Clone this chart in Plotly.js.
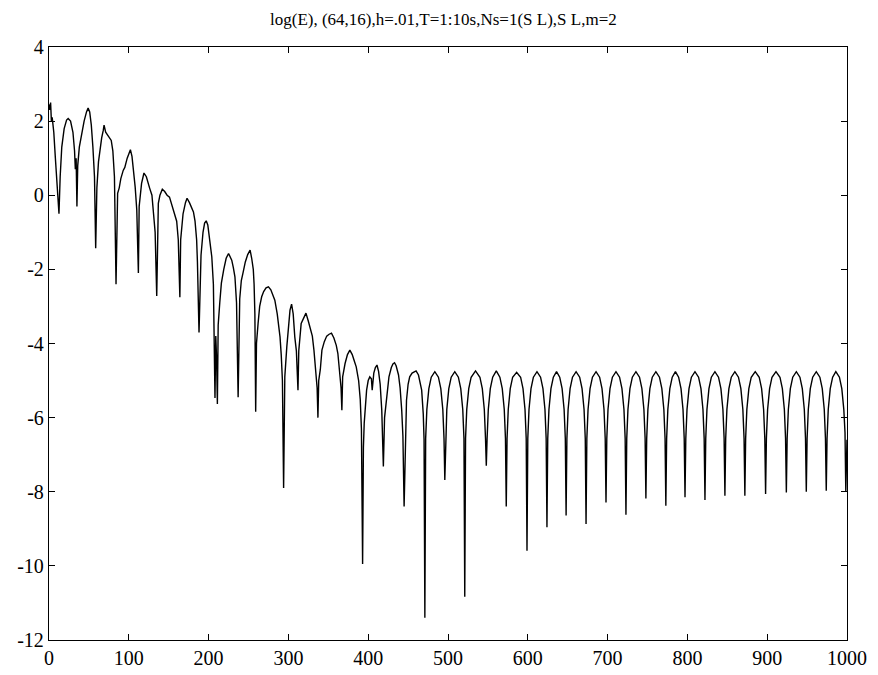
<!DOCTYPE html>
<html>
<head>
<meta charset="utf-8">
<script src="https://cdn.plot.ly/plotly-3.0.1.min.js"></script>
<style>html,body{margin:0;padding:0;background:#fff;}#chart{width:878px;height:675px;}</style>
</head>
<body>
<div id="chart"></div>
<script>
// Early, noisy part (x 0 .. 188)
var xEarly = [0,1,2,3,4,6,8,10,12.5,14,16,19,22,24,27,30,32,33,34,35,36,38,41,44,47,49,51,53,55,57,58.5,60,62,64,66,68,69,71,74,76,78,80,82,84,85,86,88,90,93,95,98,100,102,104,106,108,110,112,113,116,119,122,126,129,131,133,135,136,137,139,142,145,148,151,154,157,160,162,164,165,168,171,173,176,179,181,183,185,186,188];
var yEarly = [2.45,2.3,2.5,2.0,2.1,1.7,1.0,0.2,-0.5,0.5,1.3,1.8,2.03,2.07,2.0,1.7,1.2,0.7,1.0,-0.3,0.8,1.3,1.7,2.0,2.25,2.35,2.25,1.9,1.3,0.5,-1.43,0.2,0.9,1.3,1.55,1.75,1.89,1.7,1.6,1.55,1.48,1.2,0.5,-2.4,-0.5,0.05,0.2,0.45,0.67,0.75,1.0,1.15,1.23,1.05,0.7,0.22,-0.4,-2.1,-0.3,0.32,0.6,0.5,0.2,0.0,-0.5,-1.0,-2.72,-1.0,-0.22,0.0,0.16,0.1,0.0,-0.05,-0.25,-0.5,-0.7,-1.2,-2.75,-1.2,-0.5,-0.2,-0.08,-0.2,-0.35,-0.45,-0.7,-1.2,-1.8,-3.7];

// Middle part (x 190 .. 471)
var xMid = [190.5,193,195,197,199,201,204,206,207,208,209,210,211,212,214,216,219,222,225,227,229,231,233,235,237,239,241,243,246,249,252,254,256,257,258,259,260,262,264,266.5,269,272,275,278,281,283,286,289.5,291,292.5,294,295.5,298,300,302,304,306,308,310,312,313,316,319,322,325,327,330,332,334,336,337,338,340,342,345,348,351,354,357,360,362,364,366,367,368,371,374,377,380,383,385,388,390,391.5,393,394,395,398,400,402,404,405,407,409,411,413,415,417,419,420.5,423,426,429,431,433,435,438,440,442,443.5,445,446.5,448,450,452,455,458,460,463,465,467,469,470,471];
var yMid = [-1.62,-1.0,-0.75,-0.69,-0.8,-1.1,-1.66,-2.4,-3.6,-5.47,-3.8,-4.4,-5.63,-3.5,-2.9,-2.37,-2.0,-1.7,-1.57,-1.65,-1.75,-1.95,-2.2,-2.9,-5.45,-2.8,-2.3,-2.11,-1.8,-1.6,-1.48,-1.7,-2.0,-2.4,-3.2,-5.84,-4.0,-3.46,-3.0,-2.74,-2.6,-2.5,-2.47,-2.55,-2.7,-2.83,-3.2,-3.82,-4.3,-5.0,-7.9,-4.9,-4.09,-3.5,-3.1,-2.94,-3.2,-3.82,-4.2,-5.26,-4.2,-3.46,-3.3,-3.18,-3.4,-3.55,-3.8,-4.18,-4.6,-5.2,-6.0,-5.0,-4.7,-4.18,-3.95,-3.8,-3.75,-3.72,-3.85,-4.05,-4.27,-4.7,-5.2,-5.8,-4.9,-4.54,-4.3,-4.18,-4.3,-4.5,-4.63,-5.0,-5.5,-6.3,-9.95,-6.8,-6.15,-5.26,-5.0,-4.9,-4.95,-5.26,-4.8,-4.65,-4.58,-4.75,-5.1,-5.8,-7.32,-6.0,-5.44,-4.9,-4.65,-4.55,-4.52,-4.6,-4.85,-5.2,-5.8,-6.5,-8.4,-6.4,-5.53,-5.1,-4.9,-4.8,-4.75,-4.74,-4.85,-5.05,-5.26,-5.9,-6.6,-11.4];

// Late, regular part (x 472 .. 1000)
var xLate = [472,473.5,476,479,483.5,488,491,493.5,495,496,
 497,498.5,501,504,508.5,513,516,518.5,520,521,
 522,523.5,526,529,534.5,540,543,545.5,547,548,
 549,550.5,553,556,560.5,565,568,570.5,572,573,
 574,575.5,578,581,586,591,594,596.5,598,599,
 600,601.5,604,607,611.5,616,619,621.5,623,624,
 625,626.5,629,632,636,640,643,645.5,647,648,
 649,650.5,653,656,660.5,665,668,670.5,672,673,
 674,675.5,678,681,685.5,690,693,695.5,697,698,
 699,700.5,703,706,710.5,715,718,720.5,722,723,
 724,725.5,728,731,735.5,740,743,745.5,747,748,
 749,750.5,753,756,760.5,765,768,770.5,772,773,
 774,775.5,778,781,785,789,792,794.5,796,797,
 798,799.5,802,805,809.5,814,817,819.5,821,822,
 823,824.5,827,830,834.5,839,842,844.5,846,847,
 848,849.5,852,855,859.5,864,867,869.5,871,872,
 873,874.5,877,880,885,890,893,895.5,897,898,
 899,900.5,903,906,911,916,919,921.5,923,924,
 925,926.5,929,932,936.5,941,944,946.5,948,949,
 950,951.5,954,957,961.5,966,969,971.5,973,974,
 975,976.5,979,982,986,990.5,993.5,996,997.5,998.5,1000];
var yLate = [-6.56,-5.78,-5.22,-4.91,-4.76,-4.91,-5.22,-5.78,-6.56,-7.68,
 -6.56,-5.78,-5.22,-4.91,-4.76,-4.91,-5.22,-5.78,-6.56,-10.83,
 -6.56,-5.78,-5.22,-4.91,-4.74,-4.91,-5.22,-5.78,-6.56,-7.3,
 -6.56,-5.78,-5.22,-4.91,-4.74,-4.91,-5.22,-5.78,-6.56,-8.4,
 -6.56,-5.78,-5.22,-4.91,-4.78,-4.91,-5.22,-5.78,-6.56,-9.59,
 -6.56,-5.78,-5.22,-4.91,-4.76,-4.91,-5.22,-5.78,-6.56,-8.96,
 -6.56,-5.78,-5.22,-4.91,-4.76,-4.91,-5.22,-5.78,-6.56,-8.64,
 -6.56,-5.78,-5.22,-4.91,-4.76,-4.91,-5.22,-5.78,-6.56,-8.87,
 -6.56,-5.78,-5.22,-4.91,-4.76,-4.91,-5.22,-5.78,-6.56,-8.29,
 -6.56,-5.78,-5.22,-4.91,-4.76,-4.91,-5.22,-5.78,-6.56,-8.62,
 -6.56,-5.78,-5.22,-4.91,-4.76,-4.91,-5.22,-5.78,-6.56,-8.18,
 -6.56,-5.78,-5.22,-4.91,-4.76,-4.91,-5.22,-5.78,-6.56,-8.38,
 -6.56,-5.78,-5.22,-4.91,-4.76,-4.91,-5.22,-5.78,-6.56,-8.15,
 -6.56,-5.78,-5.22,-4.91,-4.76,-4.91,-5.22,-5.78,-6.56,-8.22,
 -6.56,-5.78,-5.22,-4.91,-4.76,-4.91,-5.22,-5.78,-6.56,-8.11,
 -6.56,-5.78,-5.22,-4.91,-4.76,-4.91,-5.22,-5.78,-6.56,-8.11,
 -6.56,-5.78,-5.22,-4.91,-4.76,-4.91,-5.22,-5.78,-6.56,-8.06,
 -6.56,-5.78,-5.22,-4.91,-4.76,-4.91,-5.22,-5.78,-6.56,-8.02,
 -6.56,-5.78,-5.22,-4.91,-4.76,-4.91,-5.22,-5.78,-6.56,-8.0,
 -6.56,-5.78,-5.22,-4.91,-4.76,-4.91,-5.22,-5.78,-6.56,-7.97,
 -6.56,-5.78,-5.22,-4.91,-4.76,-4.91,-5.22,-5.78,-6.4,-8.0,-6.6];

var xTicks = [0,100,200,300,400,500,600,700,800,900,1000];
var yTicks = [-12,-10,-8,-6,-4,-2,0,2,4];
var titleText = 'log(E), (64,16),h=.01,T=1:10s,Ns=1(S L),S L,m=2';

var xs = xEarly.concat(xMid, xLate);
var ys = yEarly.concat(yMid, yLate);

var trace = {
  x: xs, y: ys, type: 'scatter', mode: 'lines',
  line: {color: '#000', width: 1.4}, hoverinfo: 'skip'
};

var axisCommon = {
  showgrid: false, zeroline: false, showline: true, linecolor: '#000', linewidth: 1.2,
  mirror: 'ticks', ticks: 'inside', ticklen: 6, tickcolor: '#000', tickwidth: 1,
  tickfont: {family: 'Liberation Serif, Times New Roman, serif', size: 20, color: '#000'}
};

var layout = {
  width: 878, height: 675,
  margin: {l: 49, r: 31, t: 47, b: 35},
  paper_bgcolor: '#fff', plot_bgcolor: '#fff',
  showlegend: false,
  title: {text: titleText, x: 0.505, xanchor: 'center', y: 0.972, yanchor: 'middle',
          font: {family: 'Liberation Serif, Times New Roman, serif', size: 17, color: '#000'}},
  xaxis: Object.assign({}, axisCommon, {range: [0, 1000], tickvals: xTicks, ticktext: xTicks.map(String)}),
  yaxis: Object.assign({}, axisCommon, {range: [-12, 4], tickvals: yTicks, ticktext: yTicks.map(String)})
};

Plotly.newPlot('chart', [trace], layout, {staticPlot: true, displayModeBar: false});
</script>
</body>
</html>
